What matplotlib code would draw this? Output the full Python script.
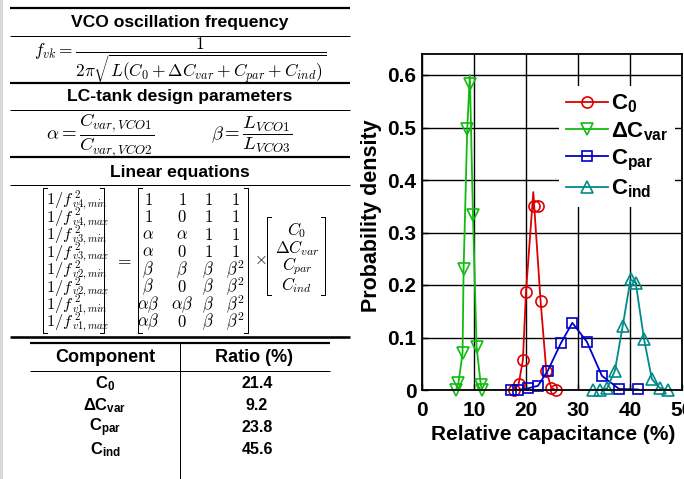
import matplotlib
matplotlib.use("Agg")
import matplotlib.pyplot as plt
from matplotlib.lines import Line2D
from matplotlib.patches import Rectangle
from matplotlib.font_manager import FontProperties

plt.rcParams['font.family'] = ['Liberation Sans', 'DejaVu Sans']
plt.rcParams['mathtext.fontset'] = 'custom'
plt.rcParams['mathtext.rm'] = 'Liberation Sans:bold'
plt.rcParams['mathtext.it'] = 'Liberation Sans:bold'
plt.rcParams['mathtext.bf'] = 'Liberation Sans:bold'

# ---------------- data ----------------
c0_line_x = [17.6, 18.6, 19.4, 20.0, 21.4, 22.8, 23.9, 24.9, 25.8]
c0_line_y = [0.0, 0.012, 0.057, 0.187, 0.377, 0.17, 0.037, 0.003, 0.0]
c0_mark_x = [17.6, 18.6, 19.4, 20.0, 21.45, 22.25, 22.8, 23.9, 24.9, 25.8]
c0_mark_y = [0.0, 0.012, 0.057, 0.187, 0.35, 0.35, 0.17, 0.037, 0.003, 0.0]

dcvar_line_x = [6.5, 7.0, 7.8, 8.0, 8.7, 9.2, 9.8, 10.5, 11.3, 11.6]
dcvar_line_y = [0.0, 0.013, 0.07, 0.23, 0.497, 0.60, 0.333, 0.082, 0.01, 0.0]
dcvar_mark_x = [6.5, 7.0, 7.8, 8.0, 8.7, 9.3, 9.8, 10.5, 11.3, 11.6]
dcvar_mark_y = [0.0, 0.013, 0.07, 0.23, 0.497, 0.583, 0.333, 0.082, 0.01, 0.0]

cpar_x = [17.1, 18.4, 20.3, 22.3, 24.2, 26.7, 28.9, 31.7, 34.6, 37.9, 41.6]
cpar_y = [0.0, 0.0, 0.003, 0.008, 0.037, 0.089, 0.128, 0.092, 0.027, 0.002, 0.001]

cind_x = [32.9, 34.3, 35.6, 37.1, 38.6, 40.1, 41.1, 42.7, 44.2, 45.7, 47.3]
cind_y = [0.0, 0.0, 0.003, 0.037, 0.122, 0.211, 0.204, 0.097, 0.021, 0.004, 0.0]

legend_labels = [r'$C_0$', r'$\Delta C_{var}$', r'$C_{par}$', r'$C_{ind}$']
x_ticks = [0, 10, 20, 30, 40, 50]
y_ticks = [0, 0.1, 0.2, 0.3, 0.4, 0.5, 0.6]
y_tick_labels = ['0', '0.1', '0.2', '0.3', '0.4', '0.5', '0.6']

table_components = [r'$C_0$', r'$\Delta C_{var}$', r'$C_{par}$', r'$C_{ind}$']
table_ratios = ['21.4', '9.2', '23.8', '45.6']

vec_left_subs = ['v4,min', 'v4,max', 'v3,min', 'v3,max',
                 'v2,min', 'v2,max', 'v1,min', 'v1,max']
matrix = [['1', '1', '1', '1'],
          ['1', '0', '1', '1'],
          [r'\alpha', r'\alpha', '1', '1'],
          [r'\alpha', '0', '1', '1'],
          [r'\beta', r'\beta', r'\beta', r'\beta^2'],
          [r'\beta', '0', r'\beta', r'\beta^2'],
          [r'\alpha\beta', r'\alpha\beta', r'\beta', r'\beta^2'],
          [r'\alpha\beta', '0', r'\beta', r'\beta^2']]
vec_right = [r'$C_0$', r'$\Delta C_{var}$', r'$C_{par}$', r'$C_{ind}$']

# ---------------- figure ----------------
W, H = 684, 479
fig = plt.figure(figsize=(W / 100, H / 100), dpi=100)
renderer = fig.canvas.get_renderer()

def fx(x):
    return x / W

def fy(y):
    return 1 - y / H

def hline(y, x0, x1, lw_px):
    fig.add_artist(Line2D([fx(x0), fx(x1)], [fy(y), fy(y)], lw=lw_px * 0.72,
                          color='k', transform=fig.transFigure, solid_capstyle='butt'))

def vline(x, y0, y1, lw_px):
    fig.add_artist(Line2D([fx(x), fx(x)], [fy(y0), fy(y1)], lw=lw_px * 0.72,
                          color='k', transform=fig.transFigure, solid_capstyle='butt'))

def bracket(x0, x1, y0, y1, tick=4, lw_px=1.0):
    for xs, t in ((x0, tick), (x1, -tick)):
        fig.add_artist(Line2D([fx(xs + t), fx(xs), fx(xs), fx(xs + t)],
                              [fy(y0), fy(y0), fy(y1), fy(y1)], lw=lw_px * 0.72,
                              color='k', transform=fig.transFigure))

def mtext(x, y, s, size=12.5, **kw):
    return fig.text(fx(x), fy(y), s, ha=kw.pop('ha', 'center'), va=kw.pop('va', 'center'),
                    fontsize=size, math_fontfamily='cm', **kw)

# grey strip on the far left
fig.add_artist(Rectangle((0, 0), fx(3), 1, transform=fig.transFigure,
                         facecolor='#d8d8d8', edgecolor='none'))

# ---- left panel rules and titles ----
PX0, PX1 = 10, 350
hline(8, PX0, PX1, 2.2)
hline(35.5, PX0, PX1, 1.0)
hline(83, PX0, PX1, 2.2)
hline(110, PX0, PX1, 1.0)
hline(157, PX0, PX1, 2.2)
hline(185, PX0, PX1, 1.0)
hline(337, PX0, PX1, 2.6)

title_kw = dict(ha='center', va='center', fontsize=12.6, fontweight='bold')
fig.text(fx(180), fy(22), 'VCO oscillation frequency', **title_kw)
fig.text(fx(180), fy(97), 'LC-tank design parameters', **title_kw)
fig.text(fx(180), fy(172), 'Linear equations', **title_kw)

mtext(180, 60, r'$f_{vk} = \dfrac{1}{2\pi\sqrt{L(C_0+\Delta C_{var}+C_{par}+C_{ind})}}$', size=12.5)
mtext(100, 135, r'$\alpha = \dfrac{C_{var,VCO1}}{C_{var,VCO2}}$', size=13.5)
mtext(252, 135, r'$\beta = \dfrac{L_{VCO1}}{L_{VCO3}}$', size=13.5)

# ---- linear equations ----
row0, drow = 200, 17.4
S = 11.8
for i, sub in enumerate(vec_left_subs):
    yb = row0 + i * drow + 4.5
    t = mtext(46, yb, r'$1/f$', size=S, ha='left', va='baseline')
    xr = t.get_window_extent(renderer).x1
    mtext(xr + 0.3, yb - 6.5, r'$2$', size=S * 0.66, ha='left', va='baseline')
    mtext(xr - 1.8, yb + 2.6, '$' + sub + '$', size=S * 0.64, ha='left', va='baseline')
bracket(43, 104, 188, 333, tick=4)
mtext(123, 260, r'$=$', size=12.5)
col_x = [148, 182, 208, 235]
for i, row in enumerate(matrix):
    for j, s in enumerate(row):
        mtext(col_x[j], row0 + i * drow, '$' + s + '$', size=12)
bracket(138, 248, 188, 333, tick=4)
mtext(260, 260, r'$\times$', size=12)
for i, s in enumerate(vec_right):
    mtext(297, 230 + i * 18.3, s, size=12)
bracket(267, 325, 217, 295, tick=4)

# ---- table ----
hline(343, 30, 330, 2.2)
hline(371, 30, 330, 1.0)
vline(180, 343, 479, 1.0)
fig.text(fx(105), fy(357), 'Component', ha='center', va='center', fontsize=13, fontweight='bold')
fig.text(fx(254), fy(357), 'Ratio (%)', ha='center', va='center', fontsize=13, fontweight='bold')
row_y = [384, 406, 428, 450]
for i in range(4):
    fig.text(fx(105), fy(row_y[i]), table_components[i], ha='center', va='center',
             fontsize=12, math_fontfamily='custom')
    fig.text(fx(257), fy(row_y[i]), table_ratios[i], ha='center', va='center',
             fontsize=11.5, fontweight='bold')

# ---------------- plot ----------------
AX_L, AX_R, AX_T, AX_B = 422, 682, 54, 390
ax = fig.add_axes([fx(AX_L), fy(AX_B), (AX_R - AX_L) / W, (AX_B - AX_T) / H])

red, green, blue, teal = '#dd0000', '#11bb11', '#0000cc', '#008b8b'
lw = 1.3
mew = 1.2
ax.plot(c0_line_x, c0_line_y, '-', color=red, lw=lw)
ax.plot(c0_mark_x, c0_mark_y, 'o', ls='none', color=red, mfc='none', ms=8, mew=mew, clip_on=False)
ax.plot(dcvar_line_x, dcvar_line_y, '-', color=green, lw=lw)
ax.plot(dcvar_mark_x, dcvar_mark_y, 'v', ls='none', color=green, mfc='none', ms=9, mew=mew, clip_on=False)
ax.plot(cpar_x, cpar_y, '-', color=blue, lw=lw)
ax.plot(cpar_x, cpar_y, 's', ls='none', color=blue, mfc='none', ms=6.5, mew=mew, clip_on=False)
ax.plot(cind_x, cind_y, '-', color=teal, lw=lw)
ax.plot(cind_x, cind_y, '^', ls='none', color=teal, mfc='none', ms=9, mew=mew, clip_on=False)

ax.set_xlim(0, 50)
ax.set_ylim(0, 0.64)
ax.set_xticks(x_ticks)
ax.set_xticklabels([str(t) for t in x_ticks])
ax.set_yticks(y_ticks)
ax.set_yticklabels(y_tick_labels)
ax.grid(True, color='k', lw=1.0, ls='-')
ax.set_axisbelow(True)
for sp in ax.spines.values():
    sp.set_linewidth(1.3)
ax.tick_params(direction='in', length=4, width=1.0)
ax.tick_params(axis='x', pad=8)
ax.tick_params(axis='y', pad=4)
for lab in ax.get_xticklabels() + ax.get_yticklabels():
    lab.set_fontsize(15)
    lab.set_fontweight('bold')

handles = [Line2D([], [], color=red, lw=lw, marker='o', mfc='none', ms=8, mew=mew),
           Line2D([], [], color=green, lw=lw, marker='v', mfc='none', ms=9, mew=mew),
           Line2D([], [], color=blue, lw=lw, marker='s', mfc='none', ms=6.5, mew=mew),
           Line2D([], [], color=teal, lw=lw, marker='^', mfc='none', ms=9, mew=mew)]
leg = ax.legend(handles, legend_labels, loc='upper left',
                bbox_to_anchor=(fx(559), fy(86)), bbox_transform=fig.transFigure,
                prop=FontProperties(family='Liberation Sans', weight='bold', size=16,
                                    math_fontfamily='custom'),
                frameon=True, fancybox=False, edgecolor='none', facecolor='white',
                framealpha=1, borderpad=0.3, borderaxespad=0, handlelength=1.9,
                handletextpad=0.15, labelspacing=0.22)

fig.text(fx(372), fy(216), 'Probability density', rotation=90, ha='center', va='center',
         fontsize=15.5, fontweight='bold')
fig.text(fx(431), fy(434), 'Relative capacitance (%)', ha='left', va='center',
         fontsize=15, fontweight='bold')

fig.savefig('out.png', dpi=100)
